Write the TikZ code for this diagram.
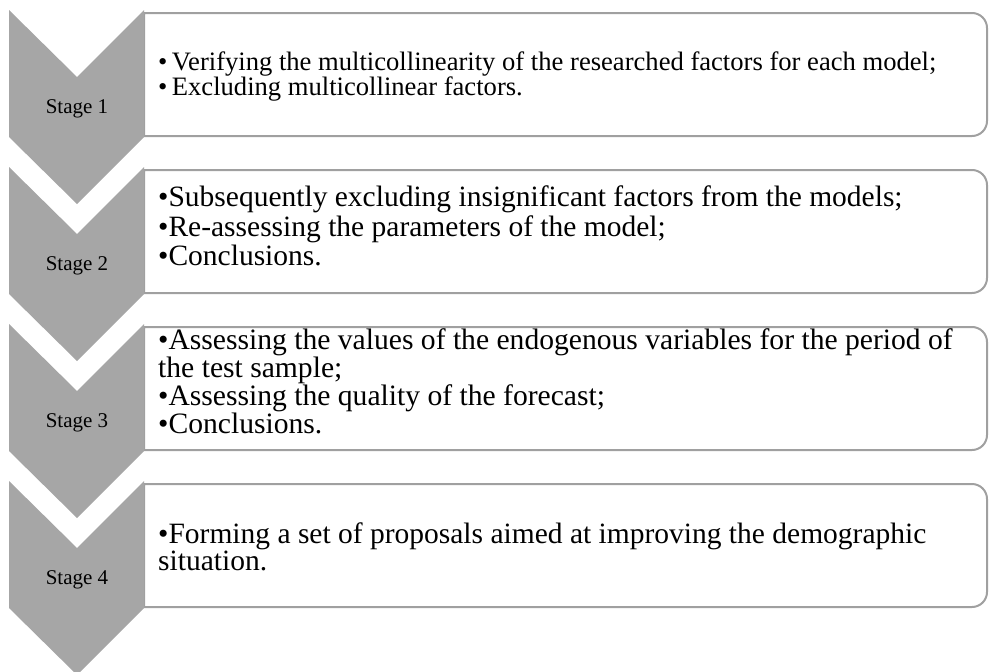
\documentclass[tikz,border=0pt]{standalone}
\usepackage{fontspec}
\setmainfont{Liberation Serif}
\usepackage{xcolor}
\usetikzlibrary{positioning}
\definecolor{chevgray}{RGB}{166,166,166}
\definecolor{boxgray}{RGB}{160,160,160}

\begin{document}
\begin{tikzpicture}[x=1pt,y=-1pt,
		stagelabel/.style={font=\fontsize{21}{24}\selectfont,inner sep=0pt,anchor=base},
		itemtext/.style={anchor=north west,inner sep=0pt,align=left}]
	\useasboundingbox (0,0) rectangle (989,672);
	
	% Boxes
	\foreach \i in {1,...,4} {
		\pgfmathsetmacro{\yt}{10+157*(\i-1)}
		\draw[draw=boxgray,line width=2pt,fill=white] (144,\yt+3) [rounded corners=15pt] -- (987,\yt+3) -- (987,\yt+126) [sharp corners] -- (144,\yt+126) -- cycle;
	}
	
	% Chevrons
	\foreach \i in {1,...,4} {
		\pgfmathsetmacro{\yt}{10+157*(\i-1)}
		\fill[chevgray] (9,\yt) -- (77,\yt+67) -- (144,\yt) -- (144,\yt+127) -- (77,\yt+194) -- (9,\yt+127) -- cycle;
		\node[stagelabel] (stage\i) at (77,\yt+103) {Stage \i};
	}
	
	% Items
	\node[itemtext,font=\fontsize{26.6}{24}\selectfont] (items1) at (158,51.4) {%
		•\,Verifying the multicollinearity of the researched factors for each model;\\
		•\,Excluding multicollinear factors.};
	\node[itemtext,font=\fontsize{29.5}{29.5}\selectfont] (items2) at (158,186) {%
		•Subsequently excluding insignificant factors from the models;\\
		•Re-assessing the parameters of the model;\\
		•Conclusions.};
	\node[itemtext,font=\fontsize{29.6}{26.5}\selectfont] (items3) at (158,328.3) {%
		•Assessing the values of the endogenous variables for the period of\\
		the test sample;\\
		•Assessing the quality of the forecast;\\
		•Conclusions.};
	\node[itemtext,font=\fontsize{29.5}{27}\selectfont] (items4) at (158,522.3) {%
		•Forming a set of proposals aimed at improving the demographic\\
		situation.};
\end{tikzpicture}
\end{document}
